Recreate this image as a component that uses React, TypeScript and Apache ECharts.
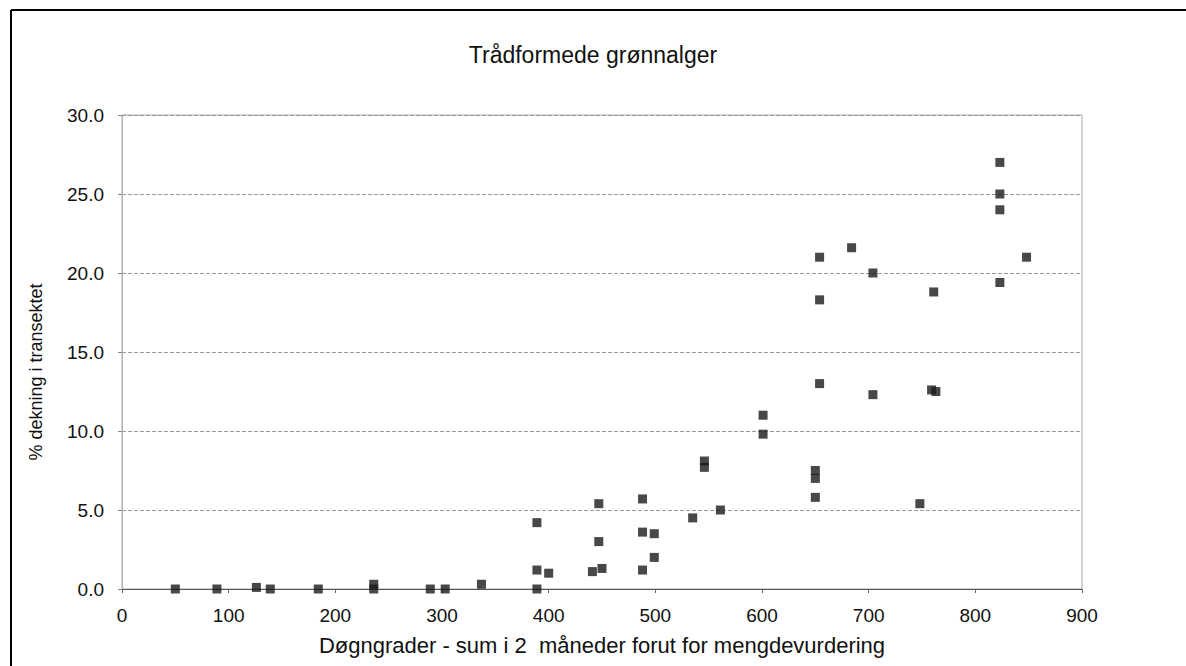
import React, { useEffect, useRef } from "react";
import * as echarts from "echarts";

const xValues = [
  50, 89, 126, 139, 184, 236, 236, 289, 303, 337,
  389, 389, 389, 400, 441, 447, 447, 450, 488, 488,
  488, 499, 499, 535, 546, 546, 561, 601, 601, 650,
  650, 650, 654, 654, 654, 684, 704, 704, 748, 759,
  763, 761, 823, 823, 823, 823, 848,
];
const yValues = [
  0.0, 0.0, 0.1, 0.0, 0.0, 0.0, 0.3, 0.0, 0.0, 0.3,
  0.0, 1.2, 4.2, 1.0, 1.1, 3.0, 5.4, 1.3, 1.2, 3.6,
  5.7, 2.0, 3.5, 4.5, 7.7, 8.1, 5.0, 9.8, 11.0, 5.8,
  7.0, 7.5, 13.0, 18.3, 21.0, 21.6, 12.3, 20.0, 5.4, 12.6,
  12.5, 18.8, 19.4, 24.0, 25.0, 27.0, 21.0,
];

const titleText = "Trådformede grønnalger";
const xAxisName = "Døgngrader - sum i 2  måneder forut for mengdevurdering";
const yAxisName = "% dekning i transektet";

export default function App() {
  const ref = useRef<HTMLDivElement>(null);
  useEffect(() => {
    if (!ref.current) return;
    const chart = echarts.init(ref.current, null, { renderer: "svg" });
    const data = xValues.map((x, i) => [x, yValues[i]]);
    const font = "Liberation Sans, Arial, sans-serif";
    chart.setOption({
      animation: false,
      backgroundColor: "#ffffff",
      title: {
        text: titleText,
        left: "center",
        top: 38,
        textStyle: { fontFamily: font, fontSize: 23, fontWeight: "normal", color: "#111" },
      },
      grid: {
        left: 122,
        right: 104,
        top: 115,
        bottom: 77,
        show: true,
        borderColor: "#aaa",
        borderWidth: 1,
        backgroundColor: "transparent",
      },
      xAxis: {
        type: "value",
        min: 0,
        max: 900,
        interval: 100,
        name: xAxisName,
        nameLocation: "middle",
        nameGap: 45,
        nameTextStyle: { fontFamily: font, fontSize: 22, color: "#111" },
        axisLine: { show: true, lineStyle: { color: "#555", width: 1 } },
        axisTick: { show: true, length: 4, lineStyle: { color: "#666" } },
        axisLabel: { fontFamily: font, fontSize: 19, color: "#111", margin: 17 },
        splitLine: { show: false },
      },
      yAxis: {
        type: "value",
        min: 0,
        max: 30,
        interval: 5,
        axisLine: { show: true, lineStyle: { color: "#aaa", width: 1, type: "dotted" } },
        axisTick: { show: true, length: 4, lineStyle: { color: "#888" } },
        axisLabel: {
          fontFamily: font,
          fontSize: 19,
          color: "#111",
          margin: 18,
          formatter: (v: number) => v.toFixed(1),
        },
        splitLine: { show: true, lineStyle: { color: "#999", width: 1, type: "dashed" } },
      },
      graphic: [
        { type: "line", shape: { x1: 11, y1: 10, x2: 1186, y2: 10 }, style: { stroke: "#000", lineWidth: 2 } },
        { type: "line", shape: { x1: 11, y1: 10, x2: 11, y2: 666 }, style: { stroke: "#000", lineWidth: 2 } },
        {
          type: "text",
          x: 36,
          y: 372,
          rotation: Math.PI / 2,
          style: {
            text: yAxisName,
            fontFamily: font,
            fontSize: 18,
            fill: "#111",
            align: "center",
            verticalAlign: "middle",
          },
        },
      ],
      series: [
        {
          type: "scatter",
          data,
          symbol: "rect",
          symbolSize: 9,
          itemStyle: { color: "#1a1a1a" },
        },
      ],
    });
    return () => chart.dispose();
  }, []);
  return (
    <div
      ref={ref}
      style={{ position: "fixed", left: 0, top: 0, width: 1186, height: 666 }}
    />
  );
}
